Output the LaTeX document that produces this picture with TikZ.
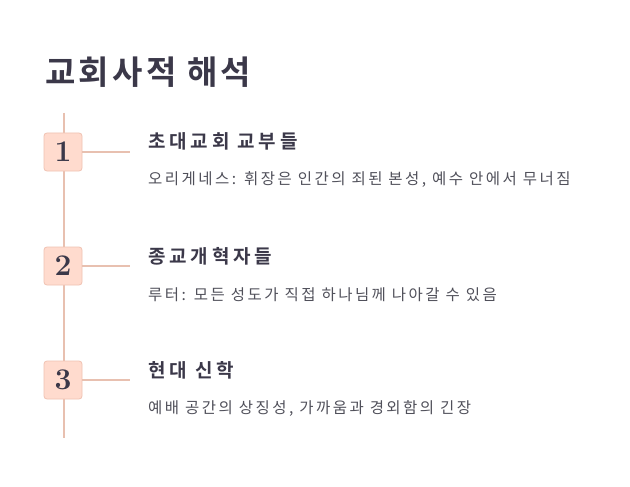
\documentclass[tikz,border=0pt]{standalone}
\usepackage{fontspec}
\newfontfamily\kr[LetterSpace=16]{Noto Sans CJK KR}
\newfontfamily\krh[LetterSpace=20]{Noto Sans CJK KR Bold}
\newfontfamily\krt[LetterSpace=10]{Noto Sans CJK KR Bold}
\definecolor{ink}{HTML}{3B3849}
\definecolor{desc}{HTML}{50505A}
\definecolor{boxfill}{HTML}{FFDBCE}
\definecolor{boxline}{HTML}{F0C2B2}
\definecolor{conn}{HTML}{E8C0B0}
\tikzset{
  numbox/.style={draw=boxline, fill=boxfill, rounded corners=3pt, minimum width=38pt, minimum height=38pt, inner sep=0pt, line width=0.8pt, text=ink, font=\bfseries\fontsize{30}{30}\selectfont},
  head/.style={anchor=west, inner sep=0pt, text=ink, font=\krh\fontsize{19}{19}\selectfont},
  body/.style={anchor=west, inner sep=0pt, text=desc, font=\kr\fontsize{15.5}{15.5}\selectfont},
  link/.style={draw=conn, line width=1.2pt}
}
\begin{document}
\begin{tikzpicture}[x=1pt,y=1pt]
\useasboundingbox[fill=white] (0,0) rectangle (630,-487);
\node[anchor=west, inner sep=0pt, text=ink, font=\krt\fontsize{33}{33}\selectfont] (title) at (45,-72) {교회사적 해석};
\coordinate (top) at (64,-113);
\coordinate (bot) at (64,-438);
\draw[link] (top) -- (bot);
\node[numbox] (n1) at (63,-152) {1};
\node[numbox] (n2) at (63,-266) {2};
\node[numbox] (n3) at (63,-380) {3};
\coordinate (e1) at (130,-152);
\coordinate (e2) at (130,-266);
\coordinate (e3) at (130,-380);
\draw[link] (n1.east) -- (e1);
\draw[link] (n2.east) -- (e2);
\draw[link] (n3.east) -- (e3);
\node[head] (h1) at (148,-141) {초대교회 교부들};
\node[body] (b1) at (148,-180) {오리게네스: 휘장은 인간의 죄된 본성, 예수 안에서 무너짐};
\node[head] (h2) at (148,-256) {종교개혁자들};
\node[body] (b2) at (148,-295) {루터: 모든 성도가 직접 하나님께 나아갈 수 있음};
\node[head] (h3) at (148,-370) {현대 신학};
\node[body] (b3) at (148,-409) {예배 공간의 상징성, 가까움과 경외함의 긴장};
\end{tikzpicture}
\end{document}
